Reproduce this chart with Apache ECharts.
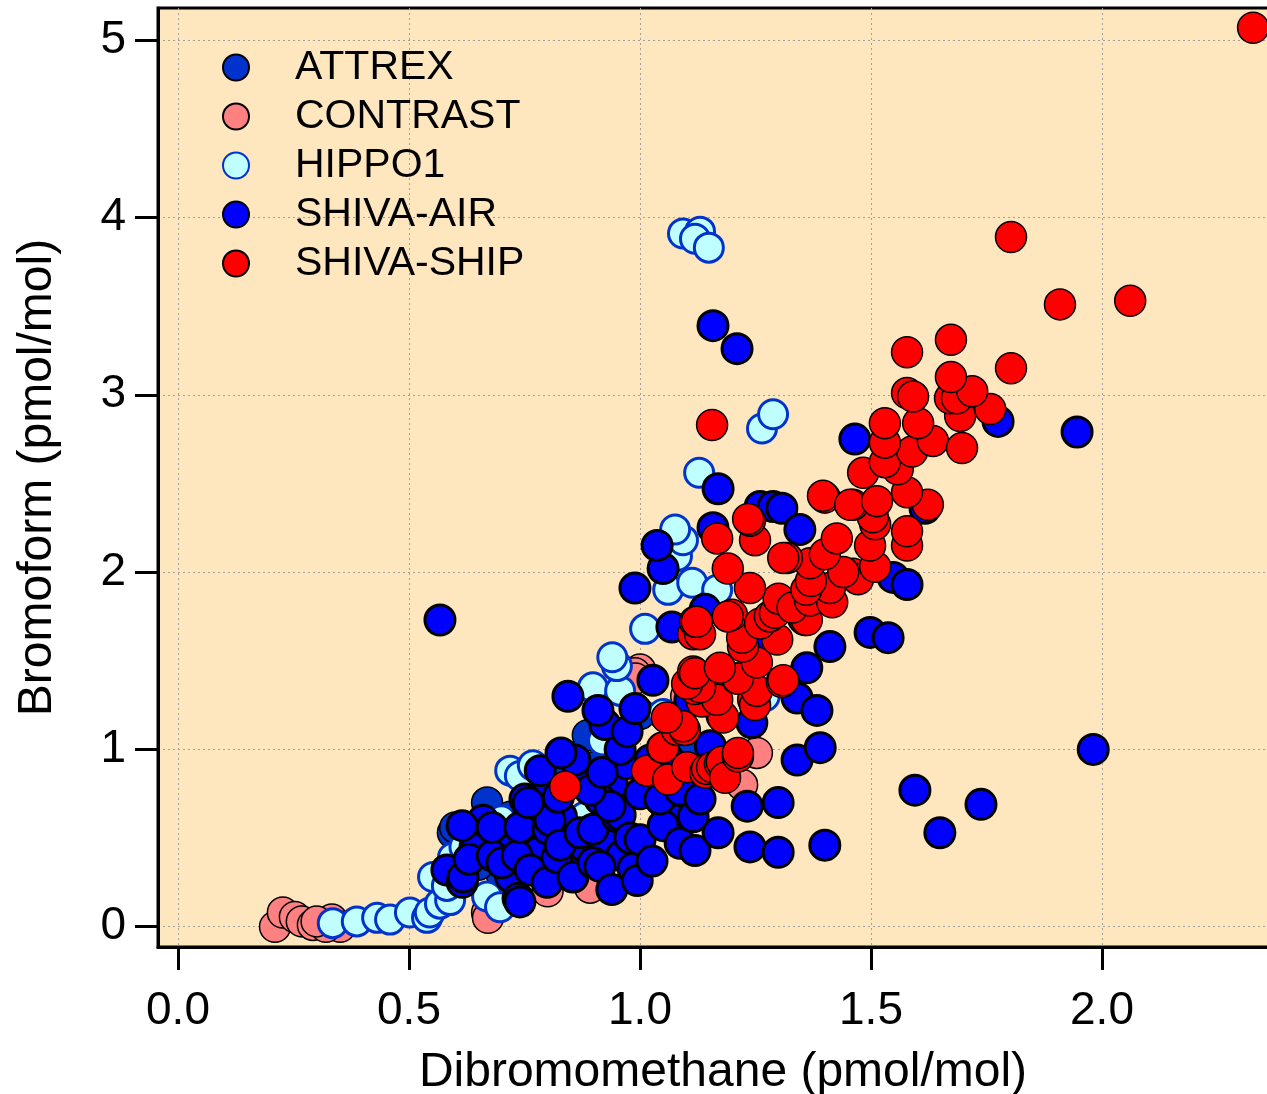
<!DOCTYPE html>
<html>
<head>
<meta charset="utf-8">
<title>Bromoform vs Dibromomethane</title>
<script src="https://cdn.jsdelivr.net/npm/echarts@6/dist/echarts.min.js"></script>
<style>
  html, body { margin: 0; padding: 0; background: #ffffff; }
  #chart { width: 1267px; height: 1094px; }
</style>
</head>
<body>
<div id="chart"></div>
<script>
// Dibromomethane (x) vs bromoform (y), pmol/mol, per campaign
const seriesNames = ['ATTREX', 'CONTRAST', 'HIPPO1', 'SHIVA-AIR', 'SHIVA-SHIP'];

const xTicks = [0, 0.5, 1.0, 1.5, 2.0];
const yTicks = [0, 1, 2, 3, 4, 5];

const attrex = [
  [0.669, 0.70], [0.595, 0.53], [0.887, 1.08], [0.60, 0.56], [0.72, 0.62],
  [0.80, 0.85], [0.90, 0.90], [0.95, 1.05], [1.00, 1.20], [0.75, 0.45],
  [0.85, 0.50], [1.05, 0.70], [0.70, 0.30], [0.65, 0.35], [1.10, 1.00]
];

const contrast = [
  [0.210, 0.00], [0.227, 0.08], [0.253, 0.055], [0.268, 0.03], [0.292, 0.01],
  [0.333, 0.04], [0.351, 0.00], [0.32, 0.00], [0.30, 0.03], [0.669, 0.08],
  [0.671, 0.05], [0.892, 0.22], [0.80, 0.20], [0.98, 0.80], [1.221, 0.80],
  [1.253, 0.98], [1.00, 1.45], [0.989, 1.43], [1.10, 1.30], [0.99, 1.40]
];

const hippo1 = [
  [0.335, 0.02], [0.387, 0.03], [0.431, 0.05], [0.459, 0.04], [0.502, 0.08],
  [0.539, 0.05], [0.545, 0.08], [0.567, 0.13], [0.589, 0.15], [0.552, 0.28],
  [0.582, 0.23], [0.617, 0.30], [0.595, 0.39], [0.647, 0.42], [0.669, 0.17],
  [0.697, 0.11], [0.62, 0.45], [0.70, 0.60], [0.76, 0.50], [0.88, 0.62],
  [0.78, 0.80], [0.719, 0.88], [0.740, 0.85], [0.768, 0.91], [0.85, 0.95],
  [0.92, 1.05], [1.00, 0.90], [1.05, 1.20], [0.898, 1.35], [0.957, 1.33],
  [0.950, 1.47], [0.94, 1.52], [1.011, 1.68], [1.061, 1.90], [1.113, 1.94],
  [1.167, 1.90], [1.080, 2.09], [1.093, 2.18], [1.076, 2.24], [1.27, 1.30],
  [1.128, 2.56], [1.264, 2.81], [1.288, 2.89],
  [1.093, 3.91], [1.130, 3.92], [1.119, 3.88], [1.149, 3.83]
];

const shivaAir = [
  [0.582, 0.32], [0.615, 0.25], [0.617, 0.28], [0.643, 0.45], [0.647, 0.50],
  [0.63, 0.38], [0.66, 0.60], [0.70, 0.48], [0.68, 0.40], [0.72, 0.28],
  [0.78, 0.42], [0.76, 0.64], [0.83, 0.62], [0.86, 0.40], [0.88, 0.45],
  [0.92, 0.50], [0.96, 0.40], [0.80, 0.78], [0.87, 0.85], [0.94, 0.80],
  [0.97, 0.92], [1.02, 0.82], [1.06, 0.95], [1.08, 0.60], [1.12, 0.80],
  [0.615, 0.57], [0.680, 0.56], [0.701, 0.36], [0.734, 0.40], [0.740, 0.56],
  [0.736, 0.16], [0.740, 0.14], [0.762, 0.32], [0.799, 0.25], [0.801, 0.55],
  [0.805, 0.60], [0.820, 0.39], [0.827, 0.46], [0.855, 0.28], [0.870, 0.53],
  [0.898, 0.55], [0.898, 0.36], [0.913, 0.34], [0.939, 0.21], [0.950, 0.62],
  [0.957, 0.63], [0.978, 0.50], [0.985, 0.33], [0.994, 0.26], [1.000, 0.49],
  [1.026, 0.37], [1.050, 0.57], [1.087, 0.47], [1.119, 0.43], [1.115, 0.62],
  [1.169, 0.53], [1.238, 0.45], [1.299, 0.42], [1.400, 0.46], [1.232, 0.68],
  [1.299, 0.70], [0.751, 0.72], [0.758, 0.70], [0.823, 0.73], [0.784, 0.88],
  [0.913, 0.72], [0.935, 0.68], [1.000, 0.75], [1.043, 0.72], [1.087, 0.77],
  [1.130, 0.72], [0.892, 0.77], [0.918, 0.87], [0.859, 0.94], [0.829, 0.98],
  [0.957, 1.00], [1.022, 0.94], [1.152, 1.02], [0.924, 1.14], [0.972, 1.10],
  [0.909, 1.22], [0.989, 1.23], [0.844, 1.30], [1.082, 1.18], [1.108, 1.28],
  [1.028, 1.39], [1.242, 1.15], [1.340, 1.29], [1.383, 1.22], [1.340, 0.94],
  [1.390, 1.01], [1.361, 1.46], [1.411, 1.58], [1.498, 1.66], [1.537, 1.63],
  [1.260, 1.62], [1.548, 1.97], [1.578, 1.93], [1.069, 1.69], [1.141, 1.79],
  [0.989, 1.91], [1.050, 2.02], [1.037, 2.15], [1.158, 2.25], [1.260, 2.37],
  [1.288, 2.37], [1.307, 2.36], [1.346, 2.24], [1.617, 2.36], [1.169, 2.47],
  [1.465, 2.75], [1.775, 2.85], [1.946, 2.79], [1.210, 3.26], [1.158, 3.39],
  [0.567, 1.73], [1.981, 1.00], [1.595, 0.77], [1.738, 0.69], [1.649, 0.53]
];

const shivaShip = [
  [0.838, 0.79], [1.015, 0.88], [1.061, 0.83], [1.048, 1.01], [1.050, 1.01],
  [1.102, 0.90], [1.141, 0.87], [1.145, 0.89], [1.156, 0.90], [1.173, 0.92],
  [1.177, 0.93], [1.184, 0.84], [1.212, 0.96], [1.212, 0.98], [1.080, 1.11],
  [1.097, 1.11], [1.093, 1.13], [1.058, 1.18], [1.177, 1.19], [1.180, 1.18],
  [1.134, 1.27], [1.167, 1.28], [1.245, 1.28], [1.249, 1.25], [1.119, 1.34],
  [1.130, 1.35], [1.102, 1.37], [1.253, 1.33], [1.210, 1.40], [1.212, 1.40],
  [1.307, 1.38], [1.310, 1.39], [1.115, 1.44], [1.119, 1.43], [1.173, 1.46],
  [1.253, 1.49], [1.223, 1.58], [1.221, 1.63], [1.297, 1.62], [1.115, 1.65],
  [1.130, 1.65], [1.119, 1.72], [1.123, 1.72], [1.199, 1.76], [1.190, 1.75],
  [1.260, 1.71], [1.281, 1.75], [1.292, 1.77], [1.353, 1.74], [1.357, 1.73],
  [1.361, 1.73], [1.30, 1.85], [1.33, 1.80], [1.368, 1.84], [1.416, 1.83],
  [1.238, 1.91], [1.411, 1.91], [1.36, 1.90], [1.37, 1.95], [1.461, 1.99],
  [1.472, 1.96], [1.44, 2.00], [1.509, 2.03], [1.368, 2.05], [1.318, 2.08],
  [1.310, 2.08], [1.40, 2.10], [1.190, 2.02], [1.167, 2.19], [1.249, 2.18],
  [1.238, 2.29], [1.234, 2.30], [1.426, 2.19], [1.498, 2.15], [1.578, 2.15],
  [1.578, 2.23], [1.509, 2.27], [1.504, 2.31], [1.400, 2.42], [1.396, 2.43],
  [1.461, 2.38], [1.455, 2.38], [1.513, 2.40], [1.623, 2.38], [1.578, 2.45],
  [1.483, 2.56], [1.558, 2.58], [1.530, 2.62], [1.589, 2.68], [1.530, 2.73],
  [1.634, 2.74], [1.697, 2.70], [1.530, 2.84], [1.602, 2.84], [1.693, 2.88],
  [1.758, 2.92], [1.578, 3.01], [1.591, 2.99], [1.671, 2.98], [1.686, 2.98],
  [1.719, 3.02], [1.673, 3.10], [1.803, 3.15], [1.578, 3.24], [1.673, 3.31],
  [1.156, 2.83], [1.909, 3.51], [2.061, 3.53], [1.803, 3.89], [2.327, 5.07]
];

const dataBySeries = [attrex, contrast, hippo1, shivaAir, shivaShip];

const styles = [
  { color: '#0033cc', borderColor: '#000000', borderWidth: 1.5, size: 31 },
  { color: '#ff8080', borderColor: '#000000', borderWidth: 1.5, size: 31 },
  { color: '#c0ffff', borderColor: '#0033cc', borderWidth: 3, size: 29 },
  { color: '#0000ff', borderColor: '#000000', borderWidth: 3, size: 30 },
  { color: '#ff0000', borderColor: '#000000', borderWidth: 1.5, size: 31 }
];

const FONT = '"Liberation Sans", Arial, Helvetica, sans-serif';

const chart = echarts.init(document.getElementById('chart'), null, { renderer: 'canvas' });

const option = {
  animation: false,
  backgroundColor: '#ffffff',
  textStyle: { fontFamily: FONT },
  grid: {
    left: 158, top: 8, right: -3, bottom: 147,
    containLabel: false,
    outerBoundsMode: 'none',
    show: true,
    backgroundColor: '#fee7bf',
    borderColor: '#000000',
    borderWidth: 3
  },
  legend: {
    orient: 'vertical',
    left: 217,
    top: 42,
    icon: 'circle',
    itemWidth: 108,
    itemHeight: 26,
    itemGap: 8,
    selectedMode: false,
    textStyle: { fontSize: 41, color: '#000000', fontFamily: FONT },
    data: seriesNames
  },
  xAxis: {
    type: 'value',
    min: -0.0433,
    max: 2.3636,
    name: 'Dibromomethane (pmol/mol)',
    nameLocation: 'middle',
    nameGap: 102,
    nameTextStyle: { fontSize: 48, color: '#000000', fontFamily: FONT, padding: [0, 0, 0, 18] },
    axisLine: { show: true, onZero: false, lineStyle: { color: '#000000', width: 3 } },
    axisTick: { show: true, inside: false, length: 23, lineStyle: { color: '#000000', width: 3 }, customValues: xTicks },
    axisLabel: {
      show: true, margin: 41, fontSize: 46, color: '#000000', fontFamily: FONT,
      customValues: xTicks,
      formatter: v => v.toFixed(1)
    },
    splitLine: { show: true, lineStyle: { color: '#a0a0a0', width: 1, type: [2, 3] } }
  },
  yAxis: {
    type: 'value',
    min: -0.1145,
    max: 5.1816,
    name: 'Bromoform (pmol/mol)',
    nameLocation: 'middle',
    nameGap: 96,
    nameTextStyle: { fontSize: 48, color: '#000000', fontFamily: FONT },
    axisLine: { show: true, onZero: false, lineStyle: { color: '#000000', width: 3 } },
    axisTick: { show: true, inside: false, length: 23, lineStyle: { color: '#000000', width: 3 }, customValues: yTicks },
    axisLabel: {
      show: true, margin: 32, fontSize: 46, color: '#000000', fontFamily: FONT,
      customValues: yTicks,
      formatter: v => String(Math.round(v))
    },
    splitLine: { show: true, lineStyle: { color: '#a0a0a0', width: 1, type: [2, 3] } }
  },
  series: seriesNames.map((name, i) => ({
    name: name,
    type: 'scatter',
    data: dataBySeries[i],
    symbol: 'circle',
    symbolSize: styles[i].size,
    itemStyle: {
      color: styles[i].color,
      borderColor: styles[i].borderColor,
      borderWidth: styles[i].borderWidth,
      opacity: 1
    },
    emphasis: { disabled: true },
    clip: false
  }))
};

chart.setOption(option);
</script>
</body>
</html>
